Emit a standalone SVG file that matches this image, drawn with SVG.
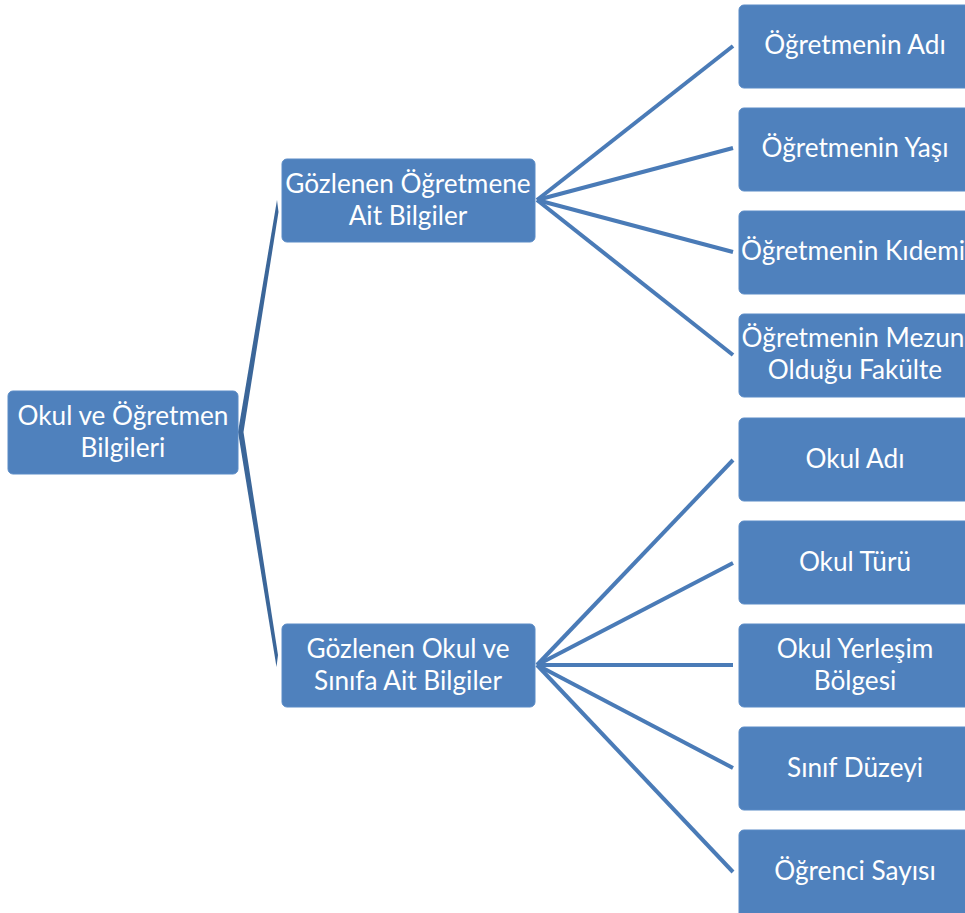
<svg xmlns="http://www.w3.org/2000/svg" width="965" height="913" viewBox="0 0 965 913">
  <style>
    .box { fill: #4f81bd; stroke: #5a8bc6; stroke-width: 1; }
    .lbl { font-family: Lato, "Open Sans", "DejaVu Sans", sans-serif; font-size: 26.2px; fill: #ffffff; text-anchor: middle; }
    .link { stroke: #4a7bb7; stroke-width: 4; stroke-linecap: butt; fill: none; }
    .brace { fill: #3b6699; }
  </style>
  <rect width="965" height="913" fill="#ffffff"/>

  <!-- connectors -->
  <g id="connectors">
    <!-- root to second level: tapered branches -->
    <polygon class="brace" points="277,200 238,432 243.5,432 278.5,212"/>
    <polygon class="brace" points="238,432 276.5,667 278,655 243.5,432"/>
    <!-- teacher group -->
    <line class="link" x1="537" y1="200" x2="733" y2="46"/>
    <line class="link" x1="537" y1="200" x2="733" y2="148"/>
    <line class="link" x1="537" y1="200" x2="733" y2="252"/>
    <line class="link" x1="537" y1="200" x2="733" y2="355"/>
    <!-- school group -->
    <line class="link" x1="537" y1="665" x2="733" y2="460"/>
    <line class="link" x1="537" y1="665" x2="733" y2="563"/>
    <line class="link" x1="537" y1="665" x2="733" y2="665"/>
    <line class="link" x1="537" y1="665" x2="733" y2="768"/>
    <line class="link" x1="537" y1="665" x2="733" y2="872"/>
  </g>

  <g id="root">
    <rect class="box" x="8" y="391" width="230" height="83" rx="5"/>
    <text class="lbl" x="123" y="425">Okul ve Öğretmen</text>
    <text class="lbl" x="123" y="457">Bilgileri</text>
  </g>

  <g id="teacher">
    <rect class="box" x="282" y="159" width="253" height="83" rx="5"/>
    <text class="lbl" x="408" y="193">Gözlenen Öğretmene</text>
    <text class="lbl" x="408" y="225">Ait Bilgiler</text>
  </g>

  <g id="school">
    <rect class="box" x="282" y="624" width="253" height="83" rx="5"/>
    <text class="lbl" x="408" y="658">Gözlenen Okul ve</text>
    <text class="lbl" x="408" y="690">Sınıfa Ait Bilgiler</text>
  </g>

  <g id="teacher-name">
    <rect class="box" x="739" y="5" width="236" height="83" rx="5"/>
    <text class="lbl" x="855" y="54">Öğretmenin Adı</text>
  </g>
  <g id="teacher-age">
    <rect class="box" x="739" y="108" width="236" height="83" rx="5"/>
    <text class="lbl" x="855" y="157">Öğretmenin Yaşı</text>
  </g>
  <g id="teacher-seniority">
    <rect class="box" x="739" y="211" width="236" height="83" rx="5"/>
    <text class="lbl" x="853" y="260">Öğretmenin Kıdemi</text>
  </g>
  <g id="teacher-faculty">
    <rect class="box" x="739" y="314" width="236" height="83" rx="5"/>
    <text class="lbl" x="853" y="347">Öğretmenin Mezun</text>
    <text class="lbl" x="855" y="379">Olduğu Fakülte</text>
  </g>

  <g id="school-name">
    <rect class="box" x="739" y="418" width="236" height="83" rx="5"/>
    <text class="lbl" x="855" y="468">Okul Adı</text>
  </g>
  <g id="school-type">
    <rect class="box" x="739" y="521" width="236" height="83" rx="5"/>
    <text class="lbl" x="855" y="571">Okul Türü</text>
  </g>
  <g id="school-region">
    <rect class="box" x="739" y="624" width="236" height="83" rx="5"/>
    <text class="lbl" x="855" y="658">Okul Yerleşim</text>
    <text class="lbl" x="855" y="690">Bölgesi</text>
  </g>
  <g id="class-level">
    <rect class="box" x="739" y="727" width="236" height="83" rx="5"/>
    <text class="lbl" x="855" y="777">Sınıf Düzeyi</text>
  </g>
  <g id="student-count">
    <rect class="box" x="739" y="830" width="236" height="90" rx="5"/>
    <text class="lbl" x="855" y="880">Öğrenci Sayısı</text>
  </g>
</svg>
